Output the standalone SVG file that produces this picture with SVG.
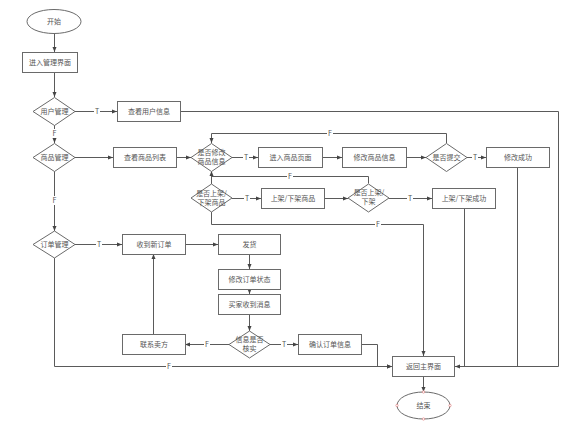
<svg xmlns="http://www.w3.org/2000/svg" width="576" height="431" viewBox="0 0 576 431">
<style>
.box{fill:#fff;stroke:#6a6a6a;stroke-width:1}
.ln{fill:none;stroke:#5a5a5a;stroke-width:1}
.ar{marker-end:url(#ah)}
.t{font-family:"Noto Sans CJK SC","Noto Sans",sans-serif;font-size:7px;fill:#555;text-anchor:middle}
.lb{fill:#fff;stroke:none}
.pt{fill:#fff;stroke:#d77;stroke-width:0.6}
</style>
<defs>
<marker id="ah" viewBox="0 0 10 10" refX="10" refY="5" markerUnits="userSpaceOnUse" markerWidth="5" markerHeight="5" orient="auto">
<path d="M0,1 L10,5 L0,9 z" fill="#444"/>
</marker>
</defs>
<rect width="576" height="431" fill="#fff"/>

<g id="connectors">
<path class="ln ar" d="M54.5,33.5 V52"/>
<path class="ln ar" d="M54.5,72 V97"/>
<path class="ln ar" d="M75,111.5 H117"/>
<path class="ln ar" d="M54.5,125 V143"/>
<path class="ln ar" d="M180,111.5 H558.5 V366.5 H455"/>
<path class="ln ar" d="M75,157.5 H113"/>
<path class="ln ar" d="M176,157.5 H191"/>
<path class="ln ar" d="M232,157.5 H258"/>
<path class="ln ar" d="M322,157.5 H342"/>
<path class="ln ar" d="M406,157.5 H426"/>
<path class="ln ar" d="M467,157.5 H486"/>
<path class="ln ar" d="M446.5,143 V133.5 H211.5 V143"/>
<path class="ln" d="M517.5,167 V366.5"/>
<path class="ln" d="M464.5,208 V366.5"/>
<path class="ln" d="M211.5,171 V184"/>
<path class="ln ar" d="M368.5,183.5 V176.5 H211.5 V171"/>
<path class="ln ar" d="M232,198.5 H261"/>
<path class="ln ar" d="M324,198.5 H348"/>
<path class="ln ar" d="M389,198.5 H432"/>
<path class="ln ar" d="M211.5,212 V224.5 H423.5 V356"/>
<path class="ln ar" d="M54.5,171 V231"/>
<path class="ln ar" d="M75,244.5 H122"/>
<path class="ln ar" d="M185,244.5 H218"/>
<path class="ln ar" d="M249.5,254 V269"/>
<path class="ln ar" d="M249.5,289 V294"/>
<path class="ln ar" d="M249.5,314 V331"/>
<path class="ln ar" d="M229,344.5 H185"/>
<path class="ln ar" d="M153.5,334 V254"/>
<path class="ln ar" d="M270,344.5 H298"/>
<path class="ln ar" d="M361,344.5 H377.5 V366.5 H392"/>
<path class="ln ar" d="M54.5,258 V366.5 H392"/>
<path class="ln ar" d="M423.5,376 V392"/>
<rect class="lb" x="94" y="107" width="6" height="9"/><text class="t" x="97" y="114">T</text>
<rect class="lb" x="51" y="129" width="7" height="9"/><text class="t" x="54.5" y="136">F</text>
<rect class="lb" x="243" y="153" width="6" height="9"/><text class="t" x="246" y="160">T</text>
<rect class="lb" x="472" y="153" width="6" height="9"/><text class="t" x="475" y="160">T</text>
<rect class="lb" x="327" y="129" width="6" height="9"/><text class="t" x="330" y="136">F</text>
<rect class="lb" x="287" y="172" width="6" height="9"/><text class="t" x="290" y="179">F</text>
<rect class="lb" x="244" y="194" width="6" height="9"/><text class="t" x="247" y="201">T</text>
<rect class="lb" x="407" y="194" width="6" height="9"/><text class="t" x="410" y="201">T</text>
<rect class="lb" x="375" y="220" width="6" height="9"/><text class="t" x="378" y="227">F</text>
<rect class="lb" x="51" y="196" width="7" height="9"/><text class="t" x="54.5" y="203">F</text>
<rect class="lb" x="96" y="240" width="6" height="9"/><text class="t" x="99" y="247">T</text>
<rect class="lb" x="204" y="340" width="6" height="9"/><text class="t" x="207" y="347">F</text>
<rect class="lb" x="281" y="340" width="6" height="9"/><text class="t" x="284" y="347">T</text>
<rect class="lb" x="166" y="362" width="6" height="9"/><text class="t" x="169" y="369">F</text>
</g>

<g id="start"><ellipse class="box" cx="54" cy="21.5" rx="27" ry="12"/><text class="t" x="54" y="24">开始</text></g>
<g id="enter"><rect class="box" x="22.5" y="52.5" width="55" height="20"/><text class="t" x="50" y="65">进入管理界面</text></g>
<g id="user-mgmt"><path class="box" d="M33,111.5 L54.5,97.5 L75,111.5 L54.5,125.5 Z"/><text class="t" x="54.5" y="114">用户管理</text></g>
<g id="view-user"><rect class="box" x="117.5" y="101.5" width="63" height="20"/><text class="t" x="149" y="114">查看用户信息</text></g>
<g id="goods-mgmt"><path class="box" d="M33,157.5 L54.5,143.5 L75,157.5 L54.5,171.5 Z"/><text class="t" x="54.5" y="160">商品管理</text></g>
<g id="goods-list"><rect class="box" x="113.5" y="147.5" width="63" height="20"/><text class="t" x="145" y="160">查看商品列表</text></g>
<g id="modify-q"><path class="box" d="M191,157.5 L211.5,143.5 L232,157.5 L211.5,171.5 Z"/><text class="t" x="211.5" y="155">是否修改</text><text class="t" x="211.5" y="164">商品信息</text></g>
<g id="goods-page"><rect class="box" x="258.5" y="147.5" width="64" height="20"/><text class="t" x="290.5" y="160">进入商品页面</text></g>
<g id="modify-info"><rect class="box" x="342.5" y="147.5" width="64" height="20"/><text class="t" x="374.5" y="160">修改商品信息</text></g>
<g id="submit-q"><path class="box" d="M426,157.5 L446.5,143.5 L467,157.5 L446.5,171.5 Z"/><text class="t" x="446.5" y="160">是否提交</text></g>
<g id="modify-ok"><rect class="box" x="486.5" y="147.5" width="63" height="20"/><text class="t" x="518" y="160">修改成功</text></g>
<g id="shelf-q"><path class="box" d="M191,198 L211.5,184 L232,198 L211.5,212 Z"/><text class="t" x="211.5" y="195.5">是否上架/</text><text class="t" x="211.5" y="204.5">下架商品</text></g>
<g id="shelf"><rect class="box" x="261.5" y="188.5" width="63" height="20"/><text class="t" x="293" y="201">上架/下架商品</text></g>
<g id="shelf-q2"><path class="box" d="M348,198 L368.5,184 L389,198 L368.5,212 Z"/><text class="t" x="369" y="195">是否上架/</text><text class="t" x="368.5" y="204">下架</text></g>
<g id="shelf-ok"><rect class="box" x="432.5" y="188.5" width="63" height="20"/><text class="t" x="464" y="201">上架/下架成功</text></g>
<g id="order-mgmt"><path class="box" d="M33,244.5 L54.5,231 L75,244.5 L54.5,258 Z"/><text class="t" x="54.5" y="247">订单管理</text></g>
<g id="new-order"><rect class="box" x="122.5" y="234.5" width="63" height="20"/><text class="t" x="154" y="247">收到新订单</text></g>
<g id="ship"><rect class="box" x="218.5" y="234.5" width="62" height="20"/><text class="t" x="249.5" y="247">发货</text></g>
<g id="order-status"><rect class="box" x="218.5" y="269.5" width="62" height="20"/><text class="t" x="249.5" y="282">修改订单状态</text></g>
<g id="buyer-msg"><rect class="box" x="218.5" y="294.5" width="62" height="20"/><text class="t" x="249.5" y="307">买家收到消息</text></g>
<g id="verify-q"><path class="box" d="M229,344.5 L249.5,331 L270,344.5 L249.5,358 Z"/><text class="t" x="249.5" y="342">信息是否</text><text class="t" x="249.5" y="351">核实</text></g>
<g id="contact"><rect class="box" x="122.5" y="334.5" width="63" height="20"/><text class="t" x="154" y="347">联系卖方</text></g>
<g id="confirm"><rect class="box" x="298.5" y="334.5" width="63" height="20"/><text class="t" x="330" y="347">确认订单信息</text></g>
<g id="return"><rect class="box" x="392.5" y="356.5" width="62" height="20"/><text class="t" x="423.5" y="369">返回主界面</text></g>
<g id="end"><ellipse class="box" cx="423.5" cy="405.5" rx="26.5" ry="13.5"/><text class="t" x="423.5" y="408">结束</text>
<circle class="pt" cx="423.5" cy="392" r="1.2"/><circle class="pt" cx="397" cy="405.5" r="1.2"/><circle class="pt" cx="450" cy="405.5" r="1.2"/><circle class="pt" cx="423.5" cy="419" r="1.2"/></g>
</svg>
